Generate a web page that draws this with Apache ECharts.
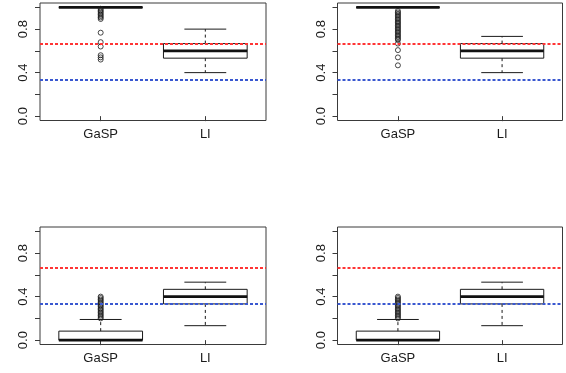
<!DOCTYPE html>
<html><head><meta charset="utf-8">
<script src="https://cdn.jsdelivr.net/npm/echarts@6/dist/echarts.min.js"></script>
<style>html,body{margin:0;padding:0;background:#fff}#c{width:566px;height:373px}</style>
</head><body><div id="c"></div>
<script>
const categories = ['GaSP', 'LI'];
const yTicks = [0, 0.2, 0.4, 0.6, 0.8, 1.0];
const yLabels = [0, 0.4, 0.8];
const refLines = [2/3, 1/3];
const refColors = ['#ff3535', '#3a58d0'];
// box stats: [min, Q1, median, Q3, max]
const p1GaSP = [1, 1, 1, 1, 1];
const p1LI = [0.4, 0.533, 0.6, 0.667, 0.8];
const p1GaSPOut = [0.987, 0.973, 0.96, 0.947, 0.933, 0.92, 0.907, 0.893, 0.767, 0.68, 0.64, 0.56, 0.54, 0.52];
const p2GaSP = [1, 1, 1, 1, 1];
const p2LI = [0.4, 0.533, 0.6, 0.667, 0.733];
const p2GaSPOut = [0.967, 0.953, 0.94, 0.927, 0.913, 0.9, 0.887, 0.873, 0.86, 0.847, 0.833, 0.82, 0.807, 0.793, 0.78, 0.767, 0.753, 0.74, 0.727, 0.713, 0.7, 0.667, 0.607, 0.54, 0.467];
const p3GaSP = [0, 0, 0, 0.083, 0.19];
const p3LI = [0.133, 0.333, 0.4, 0.467, 0.533];
const p3GaSPOut = [0.4, 0.387, 0.373, 0.36, 0.347, 0.333, 0.32, 0.307, 0.293, 0.28, 0.267, 0.253, 0.24, 0.227, 0.213, 0.2];
const p4GaSP = [0, 0, 0, 0.083, 0.19];
const p4LI = [0.133, 0.333, 0.4, 0.467, 0.533];
const p4GaSPOut = [0.4, 0.387, 0.373, 0.36, 0.347, 0.333, 0.32, 0.307, 0.293, 0.28, 0.267, 0.253, 0.24, 0.227, 0.213, 0.2];

const panels = [
  {boxes: [p1GaSP, p1LI], outliers: [p1GaSPOut, []]},
  {boxes: [p2GaSP, p2LI], outliers: [p2GaSPOut, []]},
  {boxes: [p3GaSP, p3LI], outliers: [p3GaSPOut, []]},
  {boxes: [p4GaSP, p4LI], outliers: [p4GaSPOut, []]}
];
const gridPos = [
  {left: 40, top: 3, width: 226, height: 117.5},
  {left: 337.5, top: 3, width: 225, height: 117.5},
  {left: 40, top: 227, width: 226, height: 117.5},
  {left: 337.5, top: 227, width: 225, height: 117.5}
];
const FONT = 'Liberation Sans, Arial, Helvetica, sans-serif';
const INK = '#1a1a1a';
const FRAME = '#3a3a3a';

function renderBox(params, api) {
  const x = api.value(0);
  const vals = [1,2,3,4,5].map(i => api.coord([x, api.value(i)])[1]);
  const cx = api.coord([x, api.value(3)])[0];
  const halfBox = api.size([0.4, 0])[0];
  const halfCap = api.size([0.2, 0])[0];
  const [yMin, yQ1, yMd, yQ3, yMax] = vals;
  const st = {stroke: INK, lineWidth: 1};
  const dash = {stroke: INK, lineWidth: 1, lineDash: [3, 3]};
  return {type: 'group', children: [
    {type: 'line', shape: {x1: cx, y1: yQ3, x2: cx, y2: yMax}, style: dash},
    {type: 'line', shape: {x1: cx, y1: yQ1, x2: cx, y2: yMin}, style: dash},
    {type: 'line', shape: {x1: cx - halfCap, y1: yMax, x2: cx + halfCap, y2: yMax}, style: st},
    {type: 'line', shape: {x1: cx - halfCap, y1: yMin, x2: cx + halfCap, y2: yMin}, style: st},
    {type: 'rect', shape: {x: cx - halfBox, y: yQ3, width: 2 * halfBox, height: yQ1 - yQ3}, style: {fill: 'none', stroke: INK, lineWidth: 1}},
    {type: 'line', shape: {x1: cx - halfBox, y1: yMd, x2: cx + halfBox, y2: yMd}, style: {stroke: '#111', lineWidth: 2.6}}
  ]};
}

function renderRef(params, api) {
  const cs = params.coordSys;
  const y = Math.round(api.coord([1, api.value(0)])[1]);
  const color = refColors[api.value(1)];
  return {type: 'line', shape: {x1: cs.x, y1: y, x2: cs.x + cs.width, y2: y},
    style: {stroke: color, lineWidth: 1.8, lineDash: [3, 2]}};
}

const grid = [], xAxis = [], yAxis = [], series = [];
panels.forEach((p, i) => {
  grid.push(Object.assign({show: true, borderColor: FRAME, borderWidth: 1, backgroundColor: 'transparent'}, gridPos[i]));
  xAxis.push({
    type: 'value', gridIndex: i, min: 0.42, max: 2.58,
    axisLine: {show: false}, splitLine: {show: false},
    axisTick: {show: true, length: 5, lineStyle: {color: FRAME}, customValues: categories.map((c, k) => k + 1)},
    axisLabel: {show: true, margin: 7, color: INK, fontSize: 13, fontFamily: FONT,
      customValues: categories.map((c, k) => k + 1),
      formatter: v => categories[Math.round(v) - 1]}
  });
  yAxis.push({
    type: 'value', gridIndex: i, min: -0.04, max: 1.04,
    axisLine: {show: false}, splitLine: {show: false},
    axisTick: {show: true, length: 5, lineStyle: {color: FRAME}, customValues: yTicks},
    axisLabel: {show: true, rotate: 90, margin: 10, color: INK, fontSize: 13, fontFamily: FONT,
      customValues: yLabels, formatter: v => Number(v).toFixed(1)}
  });
  series.push({
    type: 'custom', xAxisIndex: i, yAxisIndex: i, silent: true,
    renderItem: renderBox,
    encode: {x: 0, y: [1, 2, 3, 4, 5]},
    data: p.boxes.map((b, k) => [k + 1].concat(b))
  });
  const outData = [];
  p.outliers.forEach((arr, k) => arr.forEach(v => outData.push([k + 1, v])));
  series.push({
    type: 'scatter', xAxisIndex: i, yAxisIndex: i, silent: true,
    symbol: 'circle', symbolSize: 5,
    itemStyle: {color: 'rgba(0,0,0,0)', borderColor: INK, borderWidth: 1},
    data: outData
  });
  series.push({
    type: 'custom', xAxisIndex: i, yAxisIndex: i, silent: true, z: 5,
    renderItem: renderRef,
    encode: {y: 0},
    data: refLines.map((v, r) => [v, r])
  });
});

const chart = echarts.init(document.getElementById('c'), null, {renderer: 'canvas'});
chart.setOption({animation: false, backgroundColor: '#fff', grid, xAxis, yAxis, series});
</script>
</body></html>
